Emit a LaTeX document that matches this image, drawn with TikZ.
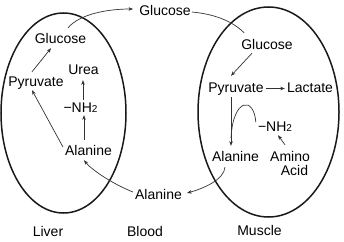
\documentclass[tikz,border=0pt]{standalone}
\usepackage{fontspec}
\setmainfont{Liberation Sans}
\usetikzlibrary{arrows.meta}
\begin{document}
\begin{tikzpicture}[x=1pt,y=-1pt,
  lbl/.style={inner sep=0pt,anchor=base,text height=10pt,text depth=3pt,font=\fontsize{14}{16}\selectfont},
  arr/.style={draw=black!80,line width=0.7pt,-{Stealth[length=4.5pt,width=3.5pt,inset=1.2pt]}},
  con/.style={draw=black!80,line width=0.7pt},
  organ/.style={draw=black!90,line width=1.5pt}]
\useasboundingbox (0,0) rectangle (344,241);
\draw[organ] (63.5,113) ellipse [x radius=62.5pt, y radius=100pt];
\draw[organ] (268.5,112) ellipse [x radius=70.5pt, y radius=105pt];
% liver
\node[lbl] (lglu) at (60.5,43) {Glucose};
\node[lbl] (lpyr) at (36,86) {Pyruvate};
\node[lbl] (lurea) at (83.5,74) {Urea};
\node[lbl] (lnh) at (80.5,112) {−NH{\fontsize{10}{12}\selectfont 2}};
\node[lbl] (lala) at (88.5,155) {Alanine};
\node[lbl] (liver) at (48,236) {Liver};
% blood
\node[lbl] (tglu) at (165,15) {Glucose};
\node[lbl] (bala) at (158.5,199) {Alanine};
\node[lbl] (blood) at (145,236) {Blood};
% muscle
\node[lbl] (rglu) at (267,49) {Glucose};
\node[lbl] (rpyr) at (236,92) {Pyruvate};
\node[lbl] (rlac) at (310,92) {Lactate};
\node[lbl] (rnh) at (275,131) {−NH{\fontsize{10}{12}\selectfont 2}};
\node[lbl] (rala) at (235.5,161) {Alanine};
\node[lbl] (ramino) at (290,161) {Amino};
\node[lbl] (racid) at (294.5,175) {Acid};
\node[lbl] (muscle) at (259.5,235) {Muscle};
% liver arrows
\draw[arr] ([shift={(-4,-4)}]lpyr.north) -- ([shift={(-9.5,2)}]lglu.south);
\draw[arr] ([shift={(-2,-4.5)}]lala.west) -- ([shift={(-4,1)}]lpyr.south);
\draw[arr] ([shift={(-4.5,-5)}]lala.north) -- ([shift={(3.5,0)}]lnh.south);
\draw[arr] ([shift={(2.5,-2)}]lnh.north) -- ([shift={(-0.5,3)}]lurea.south);
% blood connections
\draw[arr] ([shift={(7.5,-5)}]lglu.north) .. controls +(12,-14) and +(-25,0) .. ([shift={(-6,-2.5)}]tglu.west);
\draw[con] ([shift={(1,0.5)}]tglu.east) .. controls +(22,2) and +(-12,-12) .. ([shift={(3,-6)}]rglu.north west);
\draw[arr] ([shift={(-10.5,3)}]rala.south) .. controls +(-1,12) and +(18,-5) .. ([shift={(5,-2.5)}]bala.east);
\draw[arr] ([shift={(-2,-3.5)}]bala.west) .. controls +(-20,-8) and +(8,10) .. ([shift={(-4.5,2)}]lala.south);
% muscle arrows
\draw[arr] ([shift={(-15,1)}]rglu.south) -- ([shift={(-5,-6)}]rpyr.north);
\draw[arr] ([shift={(2,0)}]rpyr.east) -- ([shift={(-2,0)}]rlac.west);
\draw[arr] ([shift={(-5,2)}]rpyr.south) -- coordinate[pos=0.84] (junc) ([shift={(-4.5,-5)}]rala.north);
\draw[con] ([shift={(-2,-5.5)}]rnh.west) .. controls +(-2,-26) and +(2,-40) .. (junc);
\draw[arr] ([shift={(-5,-6)}]ramino.north) -- ([shift={(3,1)}]rnh.south);
\end{tikzpicture}
\end{document}
